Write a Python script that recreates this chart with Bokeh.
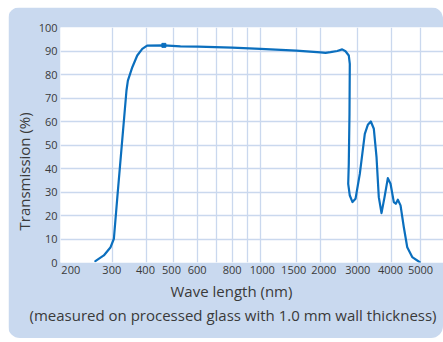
import numpy as np
from bokeh.plotting import figure
from bokeh.models import Range1d, FixedTicker, Title, ColumnDataSource
from bokeh.embed import file_html
from bokeh.resources import INLINE

# ---- data ----
wavelength_nm = [254, 276, 295, 304, 313, 326, 338, 342, 355, 370, 386, 402, 461, 526,
                 600, 800, 1000, 1500, 2000, 2112, 2229, 2399, 2532, 2625, 2720, 2750,
                 2741, 2720, 2703, 2750, 2832, 2926, 3052, 3185, 3268, 3353, 3440, 3520,
                 3589, 3673, 3769, 3877, 3967, 4072, 4135, 4200, 4288, 4398, 4515, 4692, 4973]
transmission_pct = [0.6, 3.0, 6.5, 10.1, 27.8, 51.9, 73.2, 77.4, 83.1, 88.1, 90.9, 92.3, 92.4, 92.0,
                    91.9, 91.4, 90.9, 90.2, 89.4, 89.2, 89.5, 90.0, 90.7, 89.9, 88.1, 84.5,
                    63.3, 42.0, 33.5, 28.5, 25.7, 27.1, 37.7, 54.7, 58.6, 60.0, 56.9, 44.8,
                    27.8, 21.0, 27.8, 35.9, 33.5, 25.7, 25.0, 26.7, 24.3, 15.0, 6.5, 2.3, 0.1]
marker_nm = [461]
marker_pct = [92.4]

# axis (non-linear wavelength scale as printed)
tick_nm = [200, 300, 400, 500, 600, 700, 800, 900, 1000, 1500, 2000, 3000, 4000, 5000]
tick_pos = [10.5, 51.8, 86.0, 113.3, 137.3, 155.7, 171.7, 186.7, 200.0, 235.7, 260.0, 297.3, 331.0, 360.0]
labelled_nm = [200, 300, 400, 500, 600, 800, 1000, 1500, 2000, 3000, 4000, 5000]
label_pos = [10.3, 51.3, 85.0, 111.0, 136.7, 171.7, 201.8, 233.2, 263.3, 297.3, 330.0, 360.0]
y_ticks = list(range(0, 101, 10))


def to_axis(nm):
    return np.interp(np.log10(np.asarray(nm, dtype=float)), np.log10(tick_nm), tick_pos)


FONT = "Open Sans"
TXT = "#3a3a3a"
PANEL = "#C9D9EF"
GRID = "#CAD8EE"
LINE = "#0B6FBE"

p = figure(width=435, height=331, output_backend="svg", toolbar_location=None,
           x_range=Range1d(0, 383), y_range=Range1d(0, 100),
           min_border_left=52, min_border_right=0, min_border_top=20, min_border_bottom=76)
p.styles = {"border-radius": "12px", "overflow": "hidden", "margin-left": "8px", "margin-top": "7px"}
p.border_fill_color = PANEL
p.background_fill_color = "white"
p.outline_line_color = None

src = ColumnDataSource(dict(x=to_axis(wavelength_nm), y=transmission_pct))
p.line("x", "y", source=src, line_color=LINE, line_width=2.2, line_join="round", line_cap="round")
p.scatter(to_axis(marker_nm), marker_pct, marker="square", size=4, color=LINE)

# x axis
p.xaxis.ticker = FixedTicker(ticks=label_pos)
p.xaxis.major_label_overrides = {pos: str(n) for pos, n in zip(label_pos, labelled_nm)}
grid_pos = [float(to_axis([n])[0]) for n in tick_nm if n != 200]
p.xgrid.ticker = FixedTicker(ticks=grid_pos)

p.yaxis.ticker = FixedTicker(ticks=y_ticks)
p.ygrid.ticker = FixedTicker(ticks=y_ticks)

for ax in (p.xaxis[0], p.yaxis[0]):
    ax.axis_line_color = None
    ax.major_tick_line_color = None
    ax.minor_tick_line_color = None
    ax.major_tick_out = 0
    ax.major_tick_in = 0
    ax.major_label_text_font = FONT
    ax.major_label_text_font_size = "11px"
    ax.major_label_text_color = TXT
    ax.major_label_standoff = 3

for g in (p.xgrid[0], p.ygrid[0]):
    g.grid_line_color = GRID
    g.grid_line_width = 1.3


def caption(text, standoff, offset):
    return Title(text=text, align="left", offset=offset, standoff=standoff,
                 text_font=FONT, text_font_size="15px", text_font_style="normal",
                 text_color=TXT)


p.add_layout(caption("Transmission (%)", 4, 32), "left")
p.add_layout(caption("Wave length (nm)", 4, 110), "below")
p.add_layout(caption("(measured on processed glass with 1.0 mm wall thickness)", 1, -31), "below")

open("out.html", "w").write(file_html(p, INLINE))
